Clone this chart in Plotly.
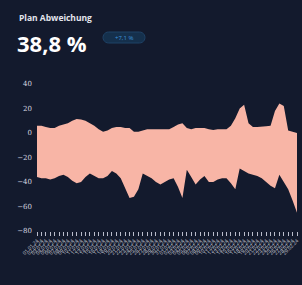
import plotly.graph_objects as go
import datetime as dt
import math

start = dt.date(2024, 1, 1)
dates = [(start + dt.timedelta(days=i)).strftime("%d.%m.%y") for i in range(60)]

upper = [6, 6, 5, 4, 4, 6, 7, 8, 10, 11.5, 11, 10, 8, 6, 3, 1, 2, 4, 5, 5,
         4, 4, 1, 1, 2, 3, 3, 3, 3, 3, 3, 5, 7, 8, 4, 3, 4, 4, 4, 3,
         2.5, 3, 3, 3, 6, 12, 20, 23, 8, 5, 5, 5, 5.5, 6, 18, 24, 22, 2, 1, 0]
lower = [-36, -37, -37, -38, -37, -35, -34, -36, -39, -41, -40, -36, -33, -35, -37, -37, -35, -31, -33, -37,
         -45, -53, -52, -46, -33, -35, -37, -40, -42, -40, -38, -37, -44, -53, -30, -36, -42, -38, -35, -40,
         -40, -38, -37, -37, -41, -46, -29, -31, -33, -34, -35, -37, -40, -43, -45, -34, -40, -46, -55, -65]

title = "Plan Abweichung"
kpi = "38,8 %"
badge = "+7,1 %"

bg = "#131a2d"
fill = "#f8b5a6"

W, H = 302, 285
ML, MR, MT, MB = 37, 5, 84, 54
pw, ph = W - ML - MR, H - MT - MB


def px(x):
    return (x - ML) / pw


def py(y):
    return (H - y - MB) / ph


fig = go.Figure()
fig.add_trace(go.Scatter(x=dates, y=lower, mode="lines", line=dict(width=0, color=fill),
                         showlegend=False, hoverinfo="skip"))
fig.add_trace(go.Scatter(x=dates, y=upper, mode="lines", line=dict(width=0, color=fill),
                         fill="tonexty", fillcolor=fill, showlegend=False))

# rounded badge path (pixel coords -> paper)
x0, x1, y0, y1, r = 103, 145, 32, 43, 5.5
pts = []
for cx, cy, a0 in [(x1 - r, y0 + r, -90), (x1 - r, y1 - r, 0), (x0 + r, y1 - r, 90), (x0 + r, y0 + r, 180)]:
    for k in range(7):
        a = math.radians(a0 + k * 15)
        pts.append((cx + r * math.cos(a), cy + r * math.sin(a)))
path = "M " + " L ".join(f"{px(a):.5f},{py(b):.5f}" for a, b in pts) + " Z"

fig.update_layout(
    width=W, height=H,
    paper_bgcolor=bg, plot_bgcolor=bg,
    margin=dict(l=ML, r=MR, t=MT, b=MB, autoexpand=False),
    font=dict(family="Open Sans", color="#d0d3dc"),
    xaxis=dict(type="category", showgrid=False, zeroline=False, showline=False, automargin=False,
               ticks="outside", ticklen=4, tickwidth=1, tickcolor="#b9bccb",
               tickangle=-45, tickfont=dict(size=5, color="#c9ccd6"), dtick=1,
               range=[0, 59]),
    yaxis=dict(range=[-80, 40], dtick=20, showgrid=False, zeroline=False, showline=False, automargin=False,
               tickfont=dict(size=7, color="#d5d8e0", family="DejaVu Serif"), ticklabelstandoff=4),
    shapes=[dict(type="path", path=path, xref="paper", yref="paper",
                 fillcolor="#15304c", line=dict(color="#1f4266", width=1), layer="above")],
    annotations=[
        dict(text="<b>" + title + "</b>", x=px(17), y=py(18), xref="paper", yref="paper",
             showarrow=False, xanchor="left", yanchor="middle", font=dict(size=8.5, color="#e4e6ee")),
        dict(text="<b>" + kpi + "</b>", x=px(15), y=py(43), xref="paper", yref="paper",
             showarrow=False, xanchor="left", yanchor="middle", font=dict(size=22, color="#ffffff")),
        dict(text=badge, x=px(124), y=py(37.5), xref="paper", yref="paper",
             showarrow=False, xanchor="center", yanchor="middle", font=dict(size=6, color="#3d93db")),
    ],
)

fig.write_html("out.html", config={"displayModeBar": False},
               post_script="document.body.style.margin='0';document.body.style.overflow='hidden';document.body.style.background='" + bg + "';")
